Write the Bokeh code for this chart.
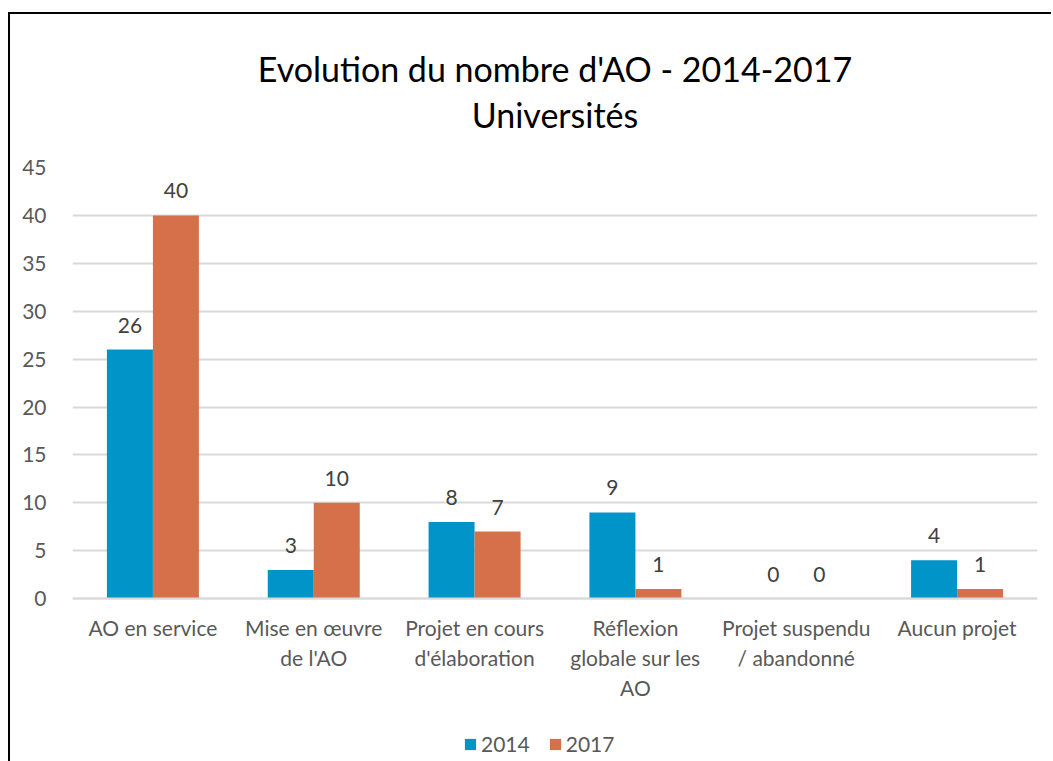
from bokeh.plotting import figure
from bokeh.models import ColumnDataSource, Title, Legend, LegendItem, FactorRange, FixedTicker
from bokeh.transform import dodge
from bokeh.core.properties import value
from bokeh.embed import file_html
from bokeh.resources import INLINE

categories = ["AO en service", "Mise en œuvre\nde l'AO", "Projet en cours\nd'élaboration",
              "Réflexion\nglobale sur les\nAO", "Projet suspendu\n/ abandonné", "Aucun projet"]
values_2014 = [26, 3, 8, 9, 0, 4]
values_2017 = [40, 10, 7, 1, 0, 1]
series_names = ["2014", "2017"]
y_ticks = [0, 5, 10, 15, 20, 25, 30, 35, 40, 45]
colors = ["#0094C8", "#D5704A"]
title_text = "Evolution du nombre d'AO - 2014-2017\nUniversités"

FONT = "Lato"
FS = "21px"

src = ColumnDataSource(dict(cat=categories, v14=values_2014, v17=values_2017,
                            t14=[str(v) for v in values_2014],
                            t17=[str(v) for v in values_2017]))

# the frame extends below zero so that the category labels and the legend sit inside it
p = figure(x_range=FactorRange(*categories), y_range=(-17, 45),
           frame_width=965, frame_height=594,
           output_backend="svg", toolbar_location=None,
           min_border_left=62, min_border_right=14, min_border_top=142, min_border_bottom=0)
p.styles = {"border-left": "2px solid #000000", "border-top": "2px solid #000000"}
p.margin = (12, 0, 0, 8)

bw = 0.286
r14 = p.vbar(x=dodge("cat", -bw / 2, range=p.x_range), top="v14", width=bw, source=src,
             fill_color=colors[0], line_color=None)
r17 = p.vbar(x=dodge("cat", bw / 2, range=p.x_range), top="v17", width=bw, source=src,
             fill_color=colors[1], line_color=None)

p.text(x=dodge("cat", -bw / 2, range=p.x_range), y="v14", text="t14", source=src,
       text_align="center", text_baseline="bottom", y_offset=-17,
       text_font=value(FONT), text_font_size=FS, text_color="#404040")
p.text(x=dodge("cat", bw / 2, range=p.x_range), y="v17", text="t17", source=src,
       text_align="center", text_baseline="bottom", y_offset=-17,
       text_font=value(FONT), text_font_size=FS, text_color="#404040")

p.title = Title(text=title_text, align="center", text_align="center", text_font=FONT,
                text_font_size="34px", text_font_style="normal", text_color="#000000",
                text_line_height=1.13, standoff=64)

p.xaxis.fixed_location = 0
p.xaxis.major_label_text_font = FONT
p.xaxis.major_label_text_font_size = FS
p.xaxis.major_label_text_color = "#595959"
p.xaxis.major_label_text_line_height = 1.2
p.xaxis.major_label_standoff = 10
p.xaxis.major_tick_line_color = None
p.xaxis.minor_tick_line_color = None
p.xaxis.axis_line_color = "#D9D9D9"
p.xaxis.axis_line_width = 2

yt = FixedTicker(ticks=y_ticks)
p.yaxis.ticker = yt
p.ygrid.ticker = yt
p.yaxis.major_label_text_font = FONT
p.yaxis.major_label_text_font_size = FS
p.yaxis.major_label_text_color = "#595959"
p.yaxis.axis_line_color = None
p.yaxis.major_tick_line_color = None
p.yaxis.minor_tick_line_color = None
p.yaxis.major_label_standoff = 20

p.xgrid.grid_line_color = None
p.ygrid.grid_line_color = "#D9D9D9"
p.ygrid.grid_line_width = 2
p.outline_line_color = None

legend = Legend(items=[LegendItem(label=series_names[0], renderers=[r14]),
                       LegendItem(label=series_names[1], renderers=[r17])],
                orientation="horizontal", location=(391, 5),
                label_text_font=FONT, label_text_font_size=FS, label_text_color="#595959",
                glyph_width=14, glyph_height=14, label_standoff=4, spacing=18,
                border_line_color=None, background_fill_alpha=0, margin=0, padding=4)
p.add_layout(legend, "center")

open("out.html", "w").write(file_html(p, INLINE))
